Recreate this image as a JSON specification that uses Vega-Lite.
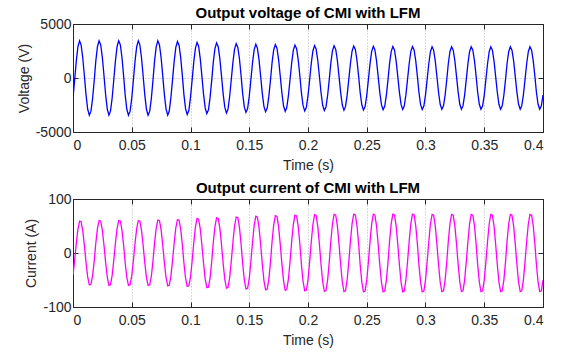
{
"$schema":"https://vega.github.io/schema/vega-lite/v6.json",
"background":"white",
"padding":{"left":16,"top":5,"right":5,"bottom":5},
"spacing":7,
"config":{
 "font":"Liberation Sans",
 "view":{"stroke":"#262626","strokeWidth":1},
 "axis":{"labelFont":"Liberation Sans","labelFontSize":14,"labelColor":"#262626","titleFont":"Liberation Sans","titleFontSize":14,"titleFontWeight":"normal","titleColor":"#262626","domainColor":"#262626","tickColor":"#262626","tickSize":-5,"gridColor":"#b4b4b4","gridDash":[1,2],"gridWidth":1,"labelPadding":11,"titlePadding":6},
 "axisY":{"labelPadding":7,"titlePadding":4},
 "title":{"font":"Liberation Sans","fontSize":15,"fontWeight":"bold","color":"#000000","offset":-4}
},
"datasets":{"d":[
{"t":0,"v":-1880,"i":-41.3},{"t":0.0014,"v":-179,"i":-13.6},{"t":0.0028,"v":1566,"i":17.7},{"t":0.0042,"v":2895,"i":44.3},{"t":0.0056,"v":3447,"i":59},{"t":0.0069,"v":3074,"i":57.9},{"t":0.0083,"v":1880,"i":41.3},{"t":0.0097,"v":179,"i":13.6},{"t":0.0111,"v":-1566,"i":-17.7},{"t":0.0125,"v":-2895,"i":-44.3},{"t":0.0139,"v":-3447,"i":-59},{"t":0.0153,"v":-3074,"i":-57.9},
{"t":0.0167,"v":-1880,"i":-42},{"t":0.0181,"v":-179,"i":-13.9},{"t":0.0194,"v":1566,"i":18},{"t":0.0208,"v":2895,"i":45},{"t":0.0222,"v":3447,"i":60},{"t":0.0236,"v":3074,"i":58.9},{"t":0.025,"v":1880,"i":42},{"t":0.0264,"v":179,"i":13.9},{"t":0.0278,"v":-1566,"i":-18},{"t":0.0292,"v":-2895,"i":-45},{"t":0.0306,"v":-3447,"i":-60},{"t":0.0319,"v":-3074,"i":-58.9},
{"t":0.0333,"v":-1880,"i":-42},{"t":0.0347,"v":-179,"i":-13.9},{"t":0.0361,"v":1566,"i":18},{"t":0.0375,"v":2895,"i":45},{"t":0.0389,"v":3447,"i":60},{"t":0.0403,"v":3074,"i":58.9},{"t":0.0417,"v":1880,"i":42},{"t":0.0431,"v":179,"i":13.9},{"t":0.0444,"v":-1566,"i":-18},{"t":0.0458,"v":-2895,"i":-45},{"t":0.0472,"v":-3447,"i":-60},{"t":0.0486,"v":-3074,"i":-58.9},
{"t":0.05,"v":-1880,"i":-42},{"t":0.0514,"v":-179,"i":-13.9},{"t":0.0528,"v":1566,"i":18},{"t":0.0542,"v":2895,"i":45},{"t":0.0556,"v":3447,"i":60},{"t":0.0569,"v":3074,"i":58.9},{"t":0.0583,"v":1880,"i":42},{"t":0.0597,"v":179,"i":13.9},{"t":0.0611,"v":-1566,"i":-18},{"t":0.0625,"v":-2895,"i":-45},{"t":0.0639,"v":-3447,"i":-60},{"t":0.0653,"v":-3074,"i":-58.9},
{"t":0.0667,"v":-1875,"i":-42.7},{"t":0.0681,"v":-179,"i":-14.1},{"t":0.0694,"v":1562,"i":18.3},{"t":0.0708,"v":2886,"i":45.8},{"t":0.0722,"v":3437,"i":61},{"t":0.0736,"v":3065,"i":59.8},{"t":0.075,"v":1875,"i":42.7},{"t":0.0764,"v":179,"i":14.1},{"t":0.0778,"v":-1562,"i":-18.3},{"t":0.0792,"v":-2886,"i":-45.8},{"t":0.0806,"v":-3437,"i":-61},{"t":0.0819,"v":-3065,"i":-59.8},
{"t":0.0833,"v":-1842,"i":-43.4},{"t":0.0847,"v":-176,"i":-14.3},{"t":0.0861,"v":1535,"i":18.6},{"t":0.0875,"v":2836,"i":46.6},{"t":0.0889,"v":3377,"i":62},{"t":0.0903,"v":3012,"i":60.9},{"t":0.0917,"v":1842,"i":43.4},{"t":0.0931,"v":176,"i":14.3},{"t":0.0944,"v":-1535,"i":-18.6},{"t":0.0958,"v":-2836,"i":-46.6},{"t":0.0972,"v":-3377,"i":-62},{"t":0.0986,"v":-3012,"i":-60.9},
{"t":0.1,"v":-1799,"i":-44.8},{"t":0.1014,"v":-172,"i":-14.8},{"t":0.1028,"v":1498,"i":19.2},{"t":0.1042,"v":2769,"i":48},{"t":0.1056,"v":3297,"i":64},{"t":0.1069,"v":2940,"i":62.8},{"t":0.1083,"v":1799,"i":44.8},{"t":0.1097,"v":172,"i":14.8},{"t":0.1111,"v":-1498,"i":-19.2},{"t":0.1125,"v":-2769,"i":-48},{"t":0.1139,"v":-3297,"i":-64},{"t":0.1153,"v":-2940,"i":-62.8},
{"t":0.1167,"v":-1771,"i":-45.5},{"t":0.1181,"v":-169,"i":-15},{"t":0.1194,"v":1476,"i":19.5},{"t":0.1208,"v":2727,"i":48.8},{"t":0.1222,"v":3247,"i":65},{"t":0.1236,"v":2896,"i":63.8},{"t":0.125,"v":1771,"i":45.5},{"t":0.1264,"v":169,"i":15},{"t":0.1278,"v":-1476,"i":-19.5},{"t":0.1292,"v":-2727,"i":-48.8},{"t":0.1306,"v":-3247,"i":-65},{"t":0.1319,"v":-2896,"i":-63.8},
{"t":0.1333,"v":-1733,"i":-46.6},{"t":0.1347,"v":-165,"i":-15.4},{"t":0.1361,"v":1444,"i":19.9},{"t":0.1375,"v":2668,"i":49.9},{"t":0.1389,"v":3177,"i":66.5},{"t":0.1403,"v":2833,"i":65.3},{"t":0.1417,"v":1733,"i":46.6},{"t":0.1431,"v":165,"i":15.4},{"t":0.1444,"v":-1444,"i":-19.9},{"t":0.1458,"v":-2668,"i":-49.9},{"t":0.1472,"v":-3177,"i":-66.5},{"t":0.1486,"v":-2833,"i":-65.3},
{"t":0.15,"v":-1706,"i":-47.6},{"t":0.1514,"v":-163,"i":-15.7},{"t":0.1528,"v":1421,"i":20.4},{"t":0.1542,"v":2626,"i":51},{"t":0.1556,"v":3127,"i":68},{"t":0.1569,"v":2789,"i":66.7},{"t":0.1583,"v":1706,"i":47.6},{"t":0.1597,"v":163,"i":15.7},{"t":0.1611,"v":-1421,"i":-20.4},{"t":0.1625,"v":-2626,"i":-51},{"t":0.1639,"v":-3127,"i":-68},{"t":0.1653,"v":-2789,"i":-66.7},
{"t":0.1667,"v":-1684,"i":-48.3},{"t":0.1681,"v":-161,"i":-15.9},{"t":0.1694,"v":1403,"i":20.7},{"t":0.1708,"v":2593,"i":51.8},{"t":0.1722,"v":3087,"i":69},{"t":0.1736,"v":2753,"i":67.7},{"t":0.175,"v":1684,"i":48.3},{"t":0.1764,"v":161,"i":15.9},{"t":0.1778,"v":-1403,"i":-20.7},{"t":0.1792,"v":-2593,"i":-51.8},{"t":0.1806,"v":-3087,"i":-69},{"t":0.1819,"v":-2753,"i":-67.7},
{"t":0.1833,"v":-1662,"i":-49},{"t":0.1847,"v":-159,"i":-16.2},{"t":0.1861,"v":1385,"i":21},{"t":0.1875,"v":2559,"i":52.6},{"t":0.1889,"v":3047,"i":70},{"t":0.1903,"v":2718,"i":68.7},{"t":0.1917,"v":1662,"i":49},{"t":0.1931,"v":159,"i":16.2},{"t":0.1944,"v":-1385,"i":-21},{"t":0.1958,"v":-2559,"i":-52.6},{"t":0.1972,"v":-3047,"i":-70},{"t":0.1986,"v":-2718,"i":-68.7},
{"t":0.2,"v":-1640,"i":-49.7},{"t":0.2014,"v":-157,"i":-16.4},{"t":0.2028,"v":1367,"i":21.3},{"t":0.2042,"v":2525,"i":53.3},{"t":0.2056,"v":3007,"i":71},{"t":0.2069,"v":2682,"i":69.7},{"t":0.2083,"v":1640,"i":49.7},{"t":0.2097,"v":157,"i":16.4},{"t":0.2111,"v":-1367,"i":-21.3},{"t":0.2125,"v":-2525,"i":-53.3},{"t":0.2139,"v":-3007,"i":-71},{"t":0.2153,"v":-2682,"i":-69.7},
{"t":0.2167,"v":-1624,"i":-50.1},{"t":0.2181,"v":-155,"i":-16.5},{"t":0.2194,"v":1353,"i":21.4},{"t":0.2208,"v":2500,"i":53.7},{"t":0.2222,"v":2977,"i":71.5},{"t":0.2236,"v":2655,"i":70.2},{"t":0.225,"v":1624,"i":50.1},{"t":0.2264,"v":155,"i":16.5},{"t":0.2278,"v":-1353,"i":-21.4},{"t":0.2292,"v":-2500,"i":-53.7},{"t":0.2306,"v":-2977,"i":-71.5},{"t":0.2319,"v":-2655,"i":-70.2},
{"t":0.2333,"v":-1613,"i":-50.4},{"t":0.2347,"v":-154,"i":-16.6},{"t":0.2361,"v":1344,"i":21.6},{"t":0.2375,"v":2483,"i":54},{"t":0.2389,"v":2957,"i":72},{"t":0.2403,"v":2637,"i":70.6},{"t":0.2417,"v":1613,"i":50.4},{"t":0.2431,"v":154,"i":16.6},{"t":0.2444,"v":-1344,"i":-21.6},{"t":0.2458,"v":-2483,"i":-54},{"t":0.2472,"v":-2957,"i":-72},{"t":0.2486,"v":-2637,"i":-70.6},
{"t":0.25,"v":-1602,"i":-50.4},{"t":0.2514,"v":-153,"i":-16.6},{"t":0.2528,"v":1335,"i":21.6},{"t":0.2542,"v":2467,"i":54},{"t":0.2556,"v":2937,"i":72},{"t":0.2569,"v":2620,"i":70.6},{"t":0.2583,"v":1602,"i":50.4},{"t":0.2597,"v":153,"i":16.6},{"t":0.2611,"v":-1335,"i":-21.6},{"t":0.2625,"v":-2467,"i":-54},{"t":0.2639,"v":-2937,"i":-72},{"t":0.2653,"v":-2620,"i":-70.6},
{"t":0.2667,"v":-1591,"i":-50.4},{"t":0.2681,"v":-152,"i":-16.6},{"t":0.2694,"v":1326,"i":21.6},{"t":0.2708,"v":2450,"i":54},{"t":0.2722,"v":2917,"i":72},{"t":0.2736,"v":2602,"i":70.6},{"t":0.275,"v":1591,"i":50.4},{"t":0.2764,"v":152,"i":16.6},{"t":0.2778,"v":-1326,"i":-21.6},{"t":0.2792,"v":-2450,"i":-54},{"t":0.2806,"v":-2917,"i":-72},{"t":0.2819,"v":-2602,"i":-70.6},
{"t":0.2833,"v":-1586,"i":-50.4},{"t":0.2847,"v":-151,"i":-16.6},{"t":0.2861,"v":1321,"i":21.6},{"t":0.2875,"v":2441,"i":54},{"t":0.2889,"v":2907,"i":72},{"t":0.2903,"v":2593,"i":70.6},{"t":0.2917,"v":1586,"i":50.4},{"t":0.2931,"v":151,"i":16.6},{"t":0.2944,"v":-1321,"i":-21.6},{"t":0.2958,"v":-2441,"i":-54},{"t":0.2972,"v":-2907,"i":-72},{"t":0.2986,"v":-2593,"i":-70.6},
{"t":0.3,"v":-1581,"i":-50.1},{"t":0.3014,"v":-151,"i":-16.5},{"t":0.3028,"v":1317,"i":21.4},{"t":0.3042,"v":2433,"i":53.7},{"t":0.3056,"v":2897,"i":71.5},{"t":0.3069,"v":2584,"i":70.2},{"t":0.3083,"v":1581,"i":50.1},{"t":0.3097,"v":151,"i":16.5},{"t":0.3111,"v":-1317,"i":-21.4},{"t":0.3125,"v":-2433,"i":-53.7},{"t":0.3139,"v":-2897,"i":-71.5},{"t":0.3153,"v":-2584,"i":-70.2},
{"t":0.3167,"v":-1581,"i":-50.1},{"t":0.3181,"v":-151,"i":-16.5},{"t":0.3194,"v":1317,"i":21.4},{"t":0.3208,"v":2433,"i":53.7},{"t":0.3222,"v":2897,"i":71.5},{"t":0.3236,"v":2584,"i":70.2},{"t":0.325,"v":1581,"i":50.1},{"t":0.3264,"v":151,"i":16.5},{"t":0.3278,"v":-1317,"i":-21.4},{"t":0.3292,"v":-2433,"i":-53.7},{"t":0.3306,"v":-2897,"i":-71.5},{"t":0.3319,"v":-2584,"i":-70.2},
{"t":0.3333,"v":-1581,"i":-50.1},{"t":0.3347,"v":-151,"i":-16.5},{"t":0.3361,"v":1317,"i":21.4},{"t":0.3375,"v":2433,"i":53.7},{"t":0.3389,"v":2897,"i":71.5},{"t":0.3403,"v":2584,"i":70.2},{"t":0.3417,"v":1581,"i":50.1},{"t":0.3431,"v":151,"i":16.5},{"t":0.3444,"v":-1317,"i":-21.4},{"t":0.3458,"v":-2433,"i":-53.7},{"t":0.3472,"v":-2897,"i":-71.5},{"t":0.3486,"v":-2584,"i":-70.2},
{"t":0.35,"v":-1581,"i":-50.1},{"t":0.3514,"v":-151,"i":-16.5},{"t":0.3528,"v":1317,"i":21.4},{"t":0.3542,"v":2433,"i":53.7},{"t":0.3556,"v":2897,"i":71.5},{"t":0.3569,"v":2584,"i":70.2},{"t":0.3583,"v":1581,"i":50.1},{"t":0.3597,"v":151,"i":16.5},{"t":0.3611,"v":-1317,"i":-21.4},{"t":0.3625,"v":-2433,"i":-53.7},{"t":0.3639,"v":-2897,"i":-71.5},{"t":0.3653,"v":-2584,"i":-70.2},
{"t":0.3667,"v":-1581,"i":-50.1},{"t":0.3681,"v":-151,"i":-16.5},{"t":0.3694,"v":1317,"i":21.4},{"t":0.3708,"v":2433,"i":53.7},{"t":0.3722,"v":2897,"i":71.5},{"t":0.3736,"v":2584,"i":70.2},{"t":0.375,"v":1581,"i":50.1},{"t":0.3764,"v":151,"i":16.5},{"t":0.3778,"v":-1317,"i":-21.4},{"t":0.3792,"v":-2433,"i":-53.7},{"t":0.3806,"v":-2897,"i":-71.5},{"t":0.3819,"v":-2584,"i":-70.2},
{"t":0.3833,"v":-1581,"i":-50.1},{"t":0.3847,"v":-151,"i":-16.5},{"t":0.3861,"v":1317,"i":21.4},{"t":0.3875,"v":2433,"i":53.7},{"t":0.3889,"v":2897,"i":71.5},{"t":0.3903,"v":2584,"i":70.2},{"t":0.3917,"v":1581,"i":50.1},{"t":0.3931,"v":151,"i":16.5},{"t":0.3944,"v":-1317,"i":-21.4},{"t":0.3958,"v":-2433,"i":-53.7},{"t":0.3972,"v":-2897,"i":-71.5},{"t":0.3986,"v":-2584,"i":-70.2},
{"t":0.4,"v":-1581,"i":-50.1}
]},
"vconcat":[
 {"title":"Output voltage of CMI with LFM","width":470,"height":108,"data":{"name":"d"},
  "layer":[
   {"mark":{"type":"line","color":"#0000ff","strokeWidth":1.3,"clip":true},
    "encoding":{
     "x":{"field":"t","type":"quantitative","scale":{"domain":[0,0.4],"nice":false,"zero":false},"axis":{"values":[0,0.05,0.1,0.15,0.2,0.25,0.3,0.35,0.4],"labelExpr":"''+datum.value","title":"Time (s)"}},
     "y":{"field":"v","type":"quantitative","scale":{"domain":[-5000,5000],"nice":false},"axis":{"values":[-5000,0,5000],"labelExpr":"''+datum.value","title":"Voltage (V)"}}}},
   {"mark":{"type":"line","strokeOpacity":0},
    "encoding":{
     "x":{"field":"t","type":"quantitative","axis":{"orient":"top","values":[0,0.05,0.1,0.15,0.2,0.25,0.3,0.35,0.4],"labels":false,"title":null,"grid":false,"minExtent":0,"maxExtent":0,"labelPadding":0}},
     "y":{"field":"v","type":"quantitative","axis":{"orient":"right","values":[-5000,0,5000],"labels":false,"title":null,"grid":false,"minExtent":0,"maxExtent":0,"labelPadding":0}}}}
  ],
  "resolve":{"axis":{"x":"independent","y":"independent"}}
 },
 {"title":"Output current of CMI with LFM","width":470,"height":108,"data":{"name":"d"},
  "layer":[
   {"mark":{"type":"line","color":"#ff00ff","strokeWidth":1.3,"clip":true},
    "encoding":{
     "x":{"field":"t","type":"quantitative","scale":{"domain":[0,0.4],"nice":false,"zero":false},"axis":{"values":[0,0.05,0.1,0.15,0.2,0.25,0.3,0.35,0.4],"labelExpr":"''+datum.value","title":"Time (s)"}},
     "y":{"field":"i","type":"quantitative","scale":{"domain":[-100,100],"nice":false},"axis":{"values":[-100,0,100],"labelExpr":"''+datum.value","title":"Current (A)"}}}},
   {"mark":{"type":"line","strokeOpacity":0},
    "encoding":{
     "x":{"field":"t","type":"quantitative","axis":{"orient":"top","values":[0,0.05,0.1,0.15,0.2,0.25,0.3,0.35,0.4],"labels":false,"title":null,"grid":false,"minExtent":0,"maxExtent":0,"labelPadding":0}},
     "y":{"field":"i","type":"quantitative","axis":{"orient":"right","values":[-100,0,100],"labels":false,"title":null,"grid":false,"minExtent":0,"maxExtent":0,"labelPadding":0}}}}
  ],
  "resolve":{"axis":{"x":"independent","y":"independent"}}
 }
]
}
